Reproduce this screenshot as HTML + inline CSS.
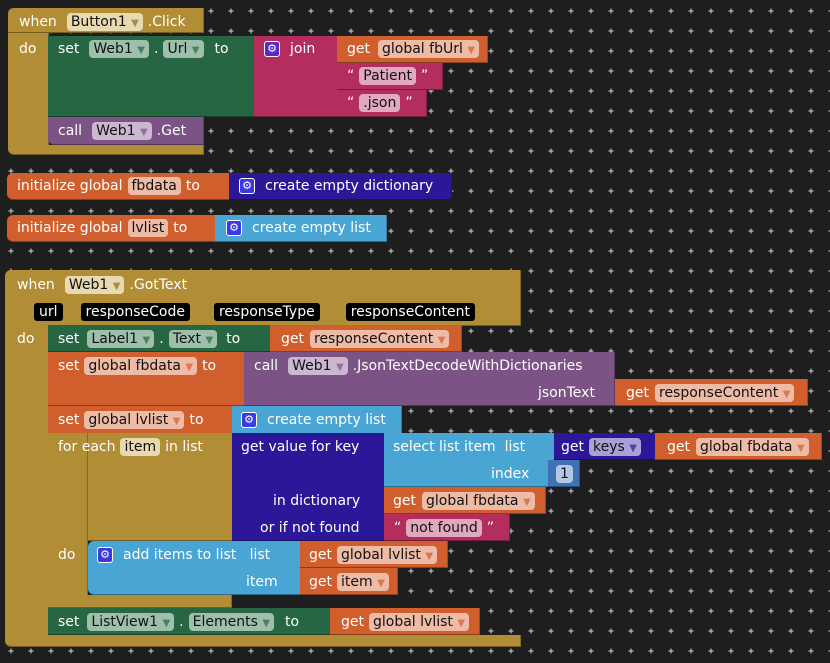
<!DOCTYPE html>
<html><head><meta charset="utf-8"><style>
body{margin:0;width:830px;height:663px;overflow:hidden;background:#1e1e1e;font-family:"DejaVu Sans","Liberation Sans",sans-serif;font-size:14px;color:#fff}
.b{position:absolute;box-sizing:border-box;border-bottom:1px solid rgba(0,0,0,.35);border-right:1px solid rgba(0,0,0,.25)}
.r{position:absolute;height:20px;line-height:20px;white-space:nowrap;display:flex;align-items:center}
.f{display:inline-block;height:18px;line-height:18px;padding:0 4px;border-radius:4px;color:#111;background:rgba(255,255,255,.6);margin:0 5px}
.k{display:inline-block;height:18px;line-height:18px;padding:0 5px;border-radius:3px;background:#000;color:#fff}
.g{display:inline-block;width:16px;height:16px;border-radius:3px;background:#3a3ae0;border:1px solid #fff;box-sizing:border-box;color:#fff;font-size:11px;line-height:14px;text-align:center;margin-right:10px}
.a{font-size:10px;opacity:.7}
.gold{background:#b18e35}.grn{background:#266643}.pink{background:#b32d5e}.or{background:#d05f2d}.pur{background:#7c5385}.ind{background:#2d1799}.lb{background:#49a6d4}.num{background:#3f71b5}
</style></head><body>
<svg width="830" height="663" style="position:absolute;left:0;top:0"><defs><pattern id="p" width="20" height="20" patternUnits="userSpaceOnUse" x="1" y="1"><path d="M7.5 10h5M10 7.5v5" stroke="#bbb" stroke-width="1.2"/></pattern></defs><rect width="830" height="663" fill="url(#p)"/></svg>

<!-- Block 1 -->
<div class="b gold" style="left:8px;top:8px;width:196px;height:25px;border-radius:6px 0 0 0"></div>
<div class="b gold" style="left:8px;top:33px;width:41px;height:122px;border-radius:0 0 0 6px"></div>
<div class="b gold" style="left:8px;top:145px;width:196px;height:10px;border-radius:0 0 0 6px"></div>
<div class="r" style="left:19px;top:12px">when<span class="f" style="margin-left:10px;background:#e8d9b0">Button1 <span class="a" style="color:#8a6f20">▼</span></span>.Click</div>
<div class="r" style="left:19px;top:39px">do</div>
<div class="b grn" style="left:48px;top:36px;width:208px;height:81px"></div>
<div class="r" style="left:58px;top:39px">set<span class="f" style="margin-left:10px;background:#9dbfac">Web1 <span class="a" style="color:#266643">▼</span></span>.<span class="f" style="background:#9dbfac">Url <span class="a" style="color:#266643">▼</span></span><span style="margin-left:6px">to</span></div>
<div class="b pink" style="left:254px;top:36px;width:84px;height:81px"></div>
<div class="r" style="left:264px;top:39px"><span class="g" style="background:#5b2ac0">⚙</span>join</div>
<div class="b or" style="left:337px;top:36px;width:151px;height:27px"></div>
<div class="r" style="left:347px;top:39px">get<span class="f" style="margin-left:8px;background:#eebba6">global fbUrl <span class="a" style="color:#d05f2d">▼</span></span></div>
<div class="b pink" style="left:337px;top:63px;width:106px;height:27px"></div>
<div class="r" style="left:347px;top:66px">“<span class="f" style="background:#e0a9bf">Patient</span>”</div>
<div class="b pink" style="left:337px;top:90px;width:90px;height:27px"></div>
<div class="r" style="left:347px;top:93px">“<span class="f" style="background:#e0a9bf">.json</span>”</div>
<div class="b pur" style="left:48px;top:117px;width:156px;height:28px;border-radius:0 0 0 6px"></div>
<div class="r" style="left:58px;top:121px">call<span class="f" style="margin-left:10px;background:#cbb8d0">Web1 <span class="a" style="color:#7c5385">▼</span></span>.Get</div>

<!-- init fbdata -->
<div class="b or" style="left:7px;top:173px;width:224px;height:27px;border-radius:6px 0 0 6px"></div>
<div class="r" style="left:17px;top:176px">initialize global<span class="f" style="background:#eebba6">fbdata</span>to</div>
<div class="b ind" style="left:229px;top:173px;width:223px;height:27px"></div>
<div class="r" style="left:239px;top:176px"><span class="g">⚙</span>create empty dictionary</div>
<!-- init lvlist -->
<div class="b or" style="left:7px;top:215px;width:210px;height:27px;border-radius:6px 0 0 6px"></div>
<div class="r" style="left:17px;top:218px">initialize global<span class="f" style="background:#eebba6">lvlist</span>to</div>
<div class="b lb" style="left:215px;top:215px;width:172px;height:27px"></div>
<div class="r" style="left:226px;top:218px"><span class="g">⚙</span>create empty list</div>

<!-- GotText -->
<div class="b gold" style="left:5px;top:270px;width:516px;height:56px;border-radius:6px 0 0 0"></div>
<div class="b gold" style="left:5px;top:325px;width:44px;height:322px;border-radius:0 0 0 6px"></div>
<div class="b gold" style="left:5px;top:635px;width:516px;height:12px;border-radius:0 0 0 6px"></div>
<div class="r" style="left:17px;top:275px">when<span class="f" style="margin-left:10px;background:#e8d9b0">Web1 <span class="a" style="color:#8a6f20">▼</span></span>.GotText</div>
<div class="r" style="left:34px;top:302px"><span class="k">url</span><span class="k" style="margin-left:18px">responseCode</span><span class="k" style="margin-left:24px">responseType</span><span class="k" style="margin-left:26px">responseContent</span></div>
<div class="r" style="left:17px;top:329px">do</div>

<div class="b grn" style="left:48px;top:325px;width:224px;height:27px"></div>
<div class="r" style="left:58px;top:329px">set<span class="f" style="margin-left:8px;background:#9dbfac">Label1 <span class="a" style="color:#266643">▼</span></span>.<span class="f" style="background:#9dbfac">Text <span class="a" style="color:#266643">▼</span></span><span style="margin-left:4px">to</span></div>
<div class="b or" style="left:270px;top:325px;width:192px;height:27px"></div>
<div class="r" style="left:281px;top:329px">get<span class="f" style="margin-left:6px;background:#eebba6">responseContent <span class="a" style="color:#d05f2d">▼</span></span></div>

<div class="b or" style="left:48px;top:352px;width:197px;height:54px"></div>
<div class="r" style="left:58px;top:356px">set<span class="f" style="background:#eebba6">global fbdata <span class="a" style="color:#d05f2d">▼</span></span>to</div>
<div class="b pur" style="left:244px;top:352px;width:371px;height:54px"></div>
<div class="r" style="left:254px;top:356px">call<span class="f" style="margin-left:10px;background:#cbb8d0">Web1 <span class="a" style="color:#7c5385">▼</span></span>.JsonTextDecodeWithDictionaries</div>
<div class="r" style="left:538px;top:383px">jsonText</div>
<div class="b or" style="left:615px;top:379px;width:193px;height:27px"></div>
<div class="r" style="left:626px;top:383px">get<span class="f" style="margin-left:6px;background:#eebba6">responseContent <span class="a" style="color:#d05f2d">▼</span></span></div>

<div class="b or" style="left:48px;top:406px;width:186px;height:28px"></div>
<div class="r" style="left:58px;top:410px">set<span class="f" style="background:#eebba6">global lvlist <span class="a" style="color:#d05f2d">▼</span></span>to</div>
<div class="b lb" style="left:232px;top:406px;width:170px;height:28px"></div>
<div class="r" style="left:241px;top:410px"><span class="g">⚙</span>create empty list</div>

<div class="b gold" style="left:48px;top:433px;width:186px;height:108px"></div>
<div class="b gold" style="left:48px;top:433px;width:40px;height:175px"></div>
<div class="b gold" style="left:48px;top:595px;width:184px;height:13px"></div>
<div class="r" style="left:58px;top:437px">for each<span class="f" style="background:#e8d9b0">item</span>in list</div>
<div class="r" style="left:58px;top:545px">do</div>

<div class="b ind" style="left:232px;top:433px;width:153px;height:108px"></div>
<div class="r" style="left:241px;top:437px">get value for key</div>
<div class="r" style="left:273px;top:491px">in dictionary</div>
<div class="r" style="left:260px;top:518px">or if not found</div>
<div class="b lb" style="left:384px;top:433px;width:171px;height:54px"></div>
<div class="r" style="left:393px;top:437px">select list item&nbsp; list</div>
<div class="r" style="left:491px;top:464px">index</div>
<div class="b ind" style="left:554px;top:433px;width:102px;height:27px"></div>
<div class="r" style="left:561px;top:437px">get<span class="f" style="background:#a9a0d6">keys <span class="a" style="color:#2d1799">▼</span></span></div>
<div class="b or" style="left:655px;top:433px;width:167px;height:27px"></div>
<div class="r" style="left:667px;top:437px">get<span class="f" style="margin-left:6px;background:#eebba6">global fbdata <span class="a" style="color:#d05f2d">▼</span></span></div>
<div class="b num" style="left:548px;top:460px;width:32px;height:27px"></div>
<div class="r" style="left:556px;top:464px"><span class="f" style="margin:0;background:#b3c6e6">1</span></div>
<div class="b or" style="left:384px;top:487px;width:162px;height:27px"></div>
<div class="r" style="left:393px;top:491px">get<span class="f" style="margin-left:6px;background:#eebba6">global fbdata <span class="a" style="color:#d05f2d">▼</span></span></div>
<div class="b pink" style="left:384px;top:514px;width:126px;height:27px"></div>
<div class="r" style="left:394px;top:518px">“<span class="f" style="background:#e0a9bf">not found</span>”</div>

<div class="b lb" style="left:88px;top:541px;width:213px;height:54px;border-radius:6px 0 0 6px"></div>
<div class="r" style="left:97px;top:545px"><span class="g">⚙</span>add items to list&nbsp;&nbsp; list</div>
<div class="r" style="left:246px;top:572px">item</div>
<div class="b or" style="left:300px;top:541px;width:148px;height:27px"></div>
<div class="r" style="left:309px;top:545px">get<span class="f" style="background:#eebba6">global lvlist <span class="a" style="color:#d05f2d">▼</span></span></div>
<div class="b or" style="left:300px;top:568px;width:98px;height:27px"></div>
<div class="r" style="left:309px;top:572px">get<span class="f" style="background:#eebba6">item <span class="a" style="color:#d05f2d">▼</span></span></div>

<div class="b grn" style="left:48px;top:608px;width:283px;height:27px"></div>
<div class="r" style="left:58px;top:612px">set<span class="f" style="margin-left:8px;background:#9dbfac">ListView1 <span class="a" style="color:#266643">▼</span></span>.<span class="f" style="background:#9dbfac">Elements <span class="a" style="color:#266643">▼</span></span><span style="margin-left:6px">to</span></div>
<div class="b or" style="left:330px;top:608px;width:150px;height:27px"></div>
<div class="r" style="left:341px;top:612px">get<span class="f" style="background:#eebba6">global lvlist <span class="a" style="color:#d05f2d">▼</span></span></div>
</body></html>
